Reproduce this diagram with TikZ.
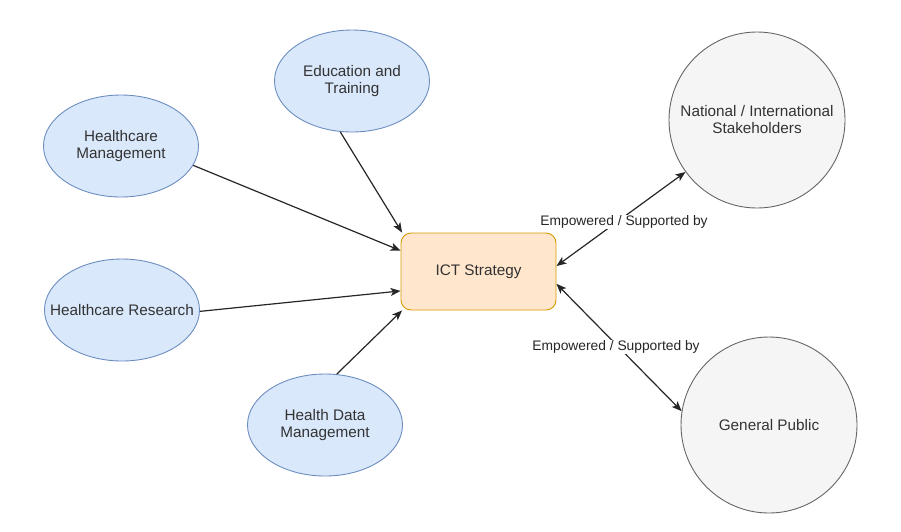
\documentclass[tikz,border=0pt]{standalone}
\usepackage{fontspec}
\setmainfont{Liberation Sans}
\usetikzlibrary{arrows.meta,shapes.geometric}
\definecolor{blueFill}{HTML}{DAE8FC}
\definecolor{blueLine}{HTML}{6C8EBF}
\definecolor{orangeFill}{HTML}{FFE6CC}
\definecolor{orangeLine}{HTML}{D79B00}
\definecolor{grayFill}{HTML}{F5F5F5}
\definecolor{grayLine}{HTML}{666666}
\definecolor{txt}{HTML}{333333}
\begin{document}
\begin{tikzpicture}[x=1pt,y=-1pt,
  topic/.style={ellipse,draw=blueLine,fill=blueFill,line width=0.9pt,inner ysep=0pt,inner xsep=-22pt,
    minimum width=155pt,minimum height=102pt,align=center,text=txt,
    font=\fontsize{15.3}{17.5}\selectfont},
  core/.style={rectangle,rounded corners=10pt,draw=orangeLine,fill=orangeFill,line width=0.9pt,
    minimum width=155pt,minimum height=77pt,text=txt,font=\fontsize{15.3}{17.5}\selectfont},
  party/.style={circle,draw=grayLine,fill=grayFill,line width=0.9pt,minimum size=176pt,
    inner sep=0pt,align=center,text=txt,font=\fontsize{15.3}{17}\selectfont},
  link/.style={line width=1.2pt,draw=black!85,-{Stealth[length=10pt,width=8pt,inset=2.5pt]}},
  biglink/.style={line width=1.2pt,draw=black!85,{Stealth[length=10pt,width=8pt,inset=2.5pt]}-{Stealth[length=10pt,width=8pt,inset=2.5pt]}},
  lbl/.style={fill=white,inner sep=1pt,text=black!85,font=\fontsize{13.8}{16}\selectfont}]
\useasboundingbox (0,0) rectangle (901,531);
\node[topic] (edu) at (352,81) {Education and\\Training};
\node[topic] (hm) at (121,146) {Healthcare\\Management};
\node[topic] (hr) at (122,310) {Healthcare Research};
\node[topic] (hd) at (325,425) {Health Data\\Management};
\node[core] (ict) at (478.5,271.5) {ICT Strategy};
\node[party] (ni) at (757,120) {National / International\\Stakeholders};
\node[party] (gp) at (769,425) {General Public};

\draw[link] (edu.-103) -- (ict.153);
\draw[link] (hm.-15) -- (ict.165.4);
\draw[link] (hr.-1) -- (ict.194.6);
\draw[link] (hd.77.7) -- (ict.207.9);
\draw[biglink] (ict.4) -- (ni.216.6);
\draw[biglink] (ict.-9.9) -- (gp.171);

\node[lbl] (l1) at (624,222) {Empowered / Supported by};
\node[lbl] (l2) at (616,347) {Empowered / Supported by};
\end{tikzpicture}
\end{document}
